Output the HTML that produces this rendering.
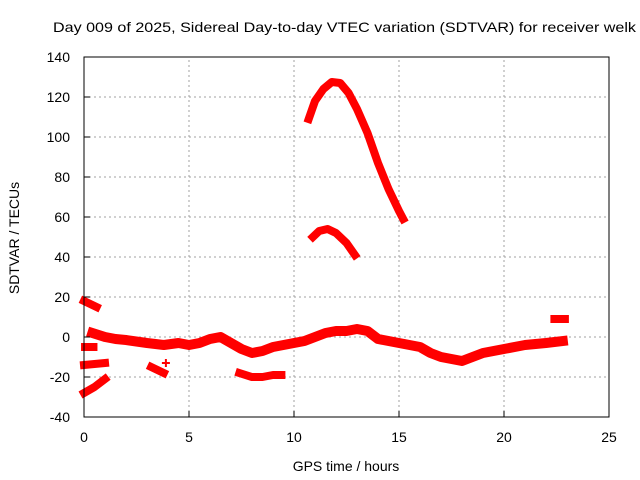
<!DOCTYPE html>
<html><head><meta charset="utf-8"><style>
body{margin:0;background:#fff}
svg{display:block;font-family:"Liberation Sans",sans-serif}
</style></head><body>
<svg id="chart" width="640" height="480">
<text x="53" y="32" font-size="14" textLength="583" lengthAdjust="spacingAndGlyphs">Day 009 of 2025, Sidereal Day-to-day VTEC variation (SDTVAR) for receiver welk</text>
<text x="346" y="471" font-size="14" text-anchor="middle">GPS time / hours</text>
<text transform="translate(19,238) rotate(-90)" font-size="14" text-anchor="middle">SDTVAR / TECUs</text>
<g id="grid"></g><g id="marks"></g><g id="axes"></g>
</svg>
<script>
const xTicks=[0,5,10,15,20,25];
const yTicks=[-40,-20,0,20,40,60,80,100,120,140];
const seg1T=[10.7,11,11.4,11.8,12.2,12.6,13,13.5,14,14.5,15,15.2];
const seg1V=[109,118,124,127.5,127,122,114,102,87,74,63,59];
const seg2T=[10.9,11.2,11.6,12,12.5,12.9];
const seg2V=[50,53,54,52,47,41];
const seg3T=[0.4,1,1.5,2,3,3.8,4.5,5,5.5,6,6.5,7,7.5,8,8.5,9,9.5,10,10.5,11,11.5,12,12.5,13,13.5,14,15,16,16.5,17,17.5,18,18.5,19,20,21,22,22.8];
const seg3V=[2,0,-1,-1.5,-3,-4,-3,-4,-3,-1,0,-3,-6,-8,-7,-5,-4,-3,-2,0,2,3,3,4,3,-1,-3,-5,-8,-10,-11,-12,-10,-8,-6,-4,-3,-2];
const seg4T=[0,0.6];const seg4V=[18,15];
const seg5T=[0.05,0.45];const seg5V=[-5,-5];
const seg6T=[0,1];const seg6V=[-14,-13];
const seg7T=[0,0.5,1];const seg7V=[-28,-25,-21];
const seg8T=[3.2,3.8];const seg8V=[-15,-18];
const seg9T=[7.4,8,8.5,9,9.4];const seg9V=[-18,-20,-20,-19,-19];
const seg10T=[22.4,22.9];const seg10V=[9,9];
const seg11T=[3.9];const seg11V=[-13];
const segsT=[seg1T,seg2T,seg3T,seg4T,seg5T,seg6T,seg7T,seg8T,seg9T,seg10T,seg11T];
const segsV=[seg1V,seg2V,seg3V,seg4V,seg5V,seg6V,seg7V,seg8V,seg9V,seg10V,seg11V];
const X0=84,X1=609,Y0=417,Y1=57;
const sx=t=>X0+(t-0)/(25-0)*(X1-X0);
const sy=v=>Y0-(v+40)/(180)*(Y0-Y1);
const NS="http://www.w3.org/2000/svg";
const grid=document.getElementById('grid'),axes=document.getElementById('axes'),marks=document.getElementById('marks');
function mk(tag,attrs,parent){const e=document.createElementNS(NS,tag);for(const k in attrs)e.setAttribute(k,attrs[k]);parent.appendChild(e);return e;}
xTicks.forEach(t=>{
 if(t>0&&t<25){const g=mk('line',{x1:sx(t),x2:sx(t),y1:Y0,y2:Y1,stroke:'#a0a0a0','stroke-dasharray':'2,3'},grid);
 
 }
 const tk=mk('line',{x1:sx(t),x2:sx(t),y1:Y0,y2:Y0-6,stroke:'#000'},axes);
 
 
 const l=mk('text',{x:sx(t),y:Y0+25,'font-size':14,'text-anchor':'middle'},axes);l.textContent=t;
 
 
});
yTicks.forEach(v=>{
 if(v>-40&&v<140){const g=mk('line',{x1:X0,x2:X1,y1:sy(v),y2:sy(v),stroke:'#a0a0a0','stroke-dasharray':'2,3'},grid);
 
 }
 const tk=mk('line',{x1:X0,x2:X0+6,y1:sy(v),y2:sy(v),stroke:'#000'},axes);
 
 
 const l=mk('text',{x:X0-14,y:sy(v)+5,'font-size':14,'text-anchor':'end'},axes);l.textContent=v;
 
 
});
const frame=mk('rect',{x:X0,y:Y1,width:X1-X0,height:Y0-Y1,fill:'none',stroke:'#000'},axes);


segsT.forEach((ts,i)=>{
 const vs=segsV[i];
 if(ts.length===1){
  const x=sx(ts[0]),y=sy(vs[0]);
  const p=mk('path',{d:`M${x-4},${y}H${x+4}M${x},${y-4}V${y+4}`,stroke:'#f00','stroke-width':2},marks);
  
  
  return;
 }
 const pts=ts.map((t,j)=>sx(t)+','+sy(vs[j])).join(' ');
 const pl=mk('polyline',{points:pts,fill:'none',stroke:'#f00','stroke-width':i===2?10:8,'stroke-linejoin':'round','stroke-linecap':'square'},marks);
 
 
});
</script>
</body></html>
